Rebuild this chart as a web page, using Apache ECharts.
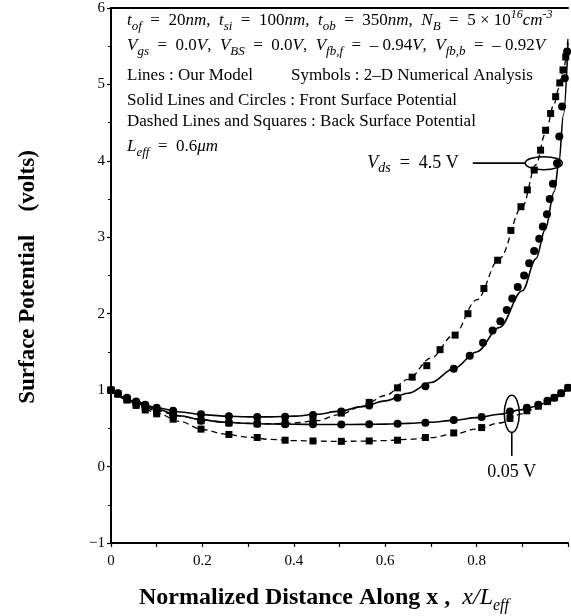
<!DOCTYPE html>
<html>
<head>
<meta charset="utf-8">
<script src="https://cdn.jsdelivr.net/npm/echarts@6/dist/echarts.min.js"></script>
<style>
  html, body { margin: 0; padding: 0; background: #fff; }
  #chart { width: 571px; height: 616px; }
</style>
</head>
<body>
<div id="chart"></div>
<script>
// ---- model curves (our model), sampled along x / Leff ----
const modelX = [0, 0.05, 0.1, 0.15, 0.2, 0.25, 0.3, 0.35, 0.4, 0.45, 0.5, 0.55, 0.6, 0.65, 0.7, 0.75, 0.8, 0.85, 0.9, 0.93, 0.95, 0.97, 0.98, 0.99, 1.0];
const modelFront45 = [1.0, 0.86, 0.77, 0.715, 0.68, 0.66, 0.65, 0.65, 0.66, 0.685, 0.725, 0.785, 0.86, 0.96, 1.1, 1.28, 1.5, 1.82, 2.3, 2.72, 3.1, 3.6, 3.97, 4.6, 5.55];
const modelBack45  = [1.0, 0.84, 0.73, 0.66, 0.61, 0.58, 0.565, 0.56, 0.57, 0.6, 0.68, 0.79, 0.93, 1.14, 1.42, 1.72, 2.18, 2.72, 3.4, 3.95, 4.35, 4.75, 4.95, 5.2, 5.6];
const modelFront005 = [1.0, 0.855, 0.75, 0.665, 0.61, 0.58, 0.565, 0.557, 0.553, 0.551, 0.55, 0.552, 0.556, 0.565, 0.58, 0.605, 0.64, 0.685, 0.745, 0.79, 0.83, 0.885, 0.925, 0.975, 1.03];
const modelBack005  = [1.0, 0.84, 0.7, 0.59, 0.485, 0.425, 0.385, 0.355, 0.34, 0.332, 0.33, 0.332, 0.34, 0.355, 0.38, 0.425, 0.49, 0.57, 0.69, 0.765, 0.825, 0.885, 0.925, 0.975, 1.03];

// ---- 2-D numerical analysis points ----
const simX005 = [0, 0.015, 0.035, 0.055, 0.075, 0.1, 0.136, 0.197, 0.258, 0.32, 0.381, 0.442, 0.504, 0.565, 0.627, 0.688, 0.75, 0.811, 0.873, 0.91, 0.935, 0.955, 0.97, 0.985, 1.0];
const simFront005 = [1.0, 0.955, 0.89, 0.83, 0.785, 0.74, 0.68, 0.6, 0.575, 0.56, 0.555, 0.553, 0.55, 0.553, 0.56, 0.575, 0.61, 0.65, 0.72, 0.77, 0.81, 0.86, 0.9, 0.96, 1.03];
const simBack005  = [1.0, 0.95, 0.87, 0.8, 0.74, 0.69, 0.62, 0.49, 0.42, 0.38, 0.345, 0.335, 0.33, 0.335, 0.345, 0.38, 0.44, 0.51, 0.63, 0.73, 0.79, 0.85, 0.9, 0.96, 1.03];

const simXFront45 = [0, 0.015, 0.035, 0.055, 0.075, 0.1, 0.136, 0.197, 0.258, 0.32, 0.381, 0.442, 0.504, 0.565, 0.627, 0.688, 0.75, 0.785, 0.814, 0.835, 0.852, 0.866, 0.878, 0.89, 0.904, 0.915, 0.926, 0.937, 0.945, 0.954, 0.96, 0.967, 0.976, 0.981, 0.987, 0.993, 0.998];
const simFront45  = [1.0, 0.96, 0.9, 0.85, 0.81, 0.77, 0.73, 0.685, 0.66, 0.648, 0.652, 0.675, 0.72, 0.8, 0.9, 1.05, 1.28, 1.45, 1.62, 1.78, 1.9, 2.05, 2.2, 2.35, 2.5, 2.66, 2.82, 2.98, 3.14, 3.3, 3.5, 3.7, 3.97, 4.32, 4.71, 5.08, 5.43];
const simXBack45 = [0, 0.015, 0.035, 0.055, 0.075, 0.1, 0.136, 0.197, 0.258, 0.32, 0.381, 0.442, 0.504, 0.565, 0.627, 0.659, 0.691, 0.72, 0.753, 0.781, 0.816, 0.846, 0.875, 0.897, 0.911, 0.926, 0.94, 0.951, 0.962, 0.973, 0.982, 0.989, 0.995];
const simBack45  = [1.0, 0.95, 0.88, 0.82, 0.77, 0.72, 0.665, 0.6, 0.57, 0.56, 0.565, 0.6, 0.7, 0.84, 1.03, 1.17, 1.32, 1.53, 1.72, 2.0, 2.33, 2.7, 3.09, 3.4, 3.62, 3.88, 4.14, 4.4, 4.62, 4.84, 5.02, 5.19, 5.36];

// ---- axis ticks ----
const xTickLabels = ['0', '0.2', '0.4', '0.6', '0.8'];
const yTickLabels = ['\u22121', '0', '1', '2', '3', '4', '5', '6'];

// annotation anchors in data units (ellipse centres)
const highVdsAt = [0.947, 3.97];
const lowVdsAt = [0.877, 0.69];

const SERIF = '"Liberation Serif", "Times New Roman", serif';
const zip = (xs, ys) => xs.map((x, i) => [x, ys[i]]);

const chart = echarts.init(document.getElementById('chart'), null, { renderer: 'canvas' });

const lineSeries = (data, dashed) => ({
  type: 'line',
  data: data,
  smooth: 0.35,
  smoothMonotone: 'x',
  showSymbol: false,
  symbol: 'none',
  silent: true,
  lineStyle: { color: '#000', width: dashed ? 1.3 : 1.6, type: dashed ? [6, 4] : 'solid' },
  z: 2
});
const markSeries = (data, shape) => ({
  type: 'scatter',
  data: data,
  symbol: shape,
  symbolSize: shape === 'circle' ? 8 : 7,
  itemStyle: { color: '#000', opacity: 1 },
  silent: true,
  z: 3
});

const axisFont = { fontFamily: SERIF, fontSize: 15, color: '#000' };

chart.setOption({
  animation: false,
  backgroundColor: '#fff',
  grid: { left: 111, right: -1, top: 8, bottom: 73, containLabel: false },
  xAxis: [{
    type: 'value', min: 0, max: 1, interval: 0.1,
    axisLine: { onZero: false, lineStyle: { color: '#000', width: 2 } },
    axisTick: { show: true, length: 4, lineStyle: { color: '#000', width: 1.2 } },
    splitLine: { show: false },
    axisLabel: Object.assign({
      margin: 11,
      formatter: v => {
        const k = Math.round(v * 10);
        return (k % 2 === 0 && k / 2 < xTickLabels.length) ? xTickLabels[k / 2] : '';
      }
    }, axisFont)
  }, {
    type: 'value', min: 0, max: 1, position: 'top',
    axisLine: { show: true, onZero: false, lineStyle: { color: '#000', width: 2 } },
    axisTick: { show: false }, axisLabel: { show: false }, splitLine: { show: false }
  }],
  yAxis: {
    type: 'value', min: -1, max: 6, interval: 1,
    axisLine: { show: true, onZero: false, lineStyle: { color: '#000', width: 2 } },
    axisTick: { show: true, length: 4, lineStyle: { color: '#000', width: 1.2 } },
    minorTick: { show: true, splitNumber: 2, length: 3, lineStyle: { color: '#000', width: 1 } },
    splitLine: { show: false },
    axisLabel: Object.assign({
      margin: 6,
      formatter: v => yTickLabels[Math.round(v) + 1]
    }, axisFont)
  },
  series: [
    lineSeries(zip(modelX, modelFront45), false),
    lineSeries(zip(modelX, modelBack45), true),
    lineSeries(zip(modelX, modelFront005), false),
    lineSeries(zip(modelX, modelBack005), true),
    markSeries(zip(simXFront45, simFront45), 'circle'),
    markSeries(zip(simXBack45, simBack45), 'rect'),
    markSeries(zip(simX005, simFront005), 'circle'),
    markSeries(zip(simX005, simBack005), 'rect')
  ]
});

// rich text styles for the parameter block
const FS = 17;
const rich = {
  n: { fontFamily: SERIF, fontSize: FS, color: '#000', lineHeight: 24 },
  i: { fontFamily: SERIF, fontSize: FS, fontStyle: 'italic', color: '#000', lineHeight: 24 },
  s: { fontFamily: SERIF, fontSize: 13, fontStyle: 'italic', color: '#000', verticalAlign: 'bottom' },
  p: { fontFamily: SERIF, fontSize: 12, fontStyle: 'italic', color: '#000', verticalAlign: 'top' },
  big: { fontFamily: SERIF, fontSize: 18, color: '#000', lineHeight: 24 },
  bigi: { fontFamily: SERIF, fontSize: 18, fontStyle: 'italic', color: '#000', lineHeight: 24 },
  bigs: { fontFamily: SERIF, fontSize: 14, fontStyle: 'italic', color: '#000', verticalAlign: 'bottom' }
};
const txt = (x, y, text, align) => ({
  type: 'text', x: x, y: y, silent: true, z: 6,
  style: { text: text, rich: rich, fill: '#000', font: FS + 'px ' + SERIF,
    verticalAlign: 'middle', align: align || 'left' }
});

const pHigh = chart.convertToPixel({ seriesIndex: 0 }, highVdsAt);
const pLow = chart.convertToPixel({ seriesIndex: 0 }, lowVdsAt);

const graphics = [
  txt(127, 21, '{i|t}{s|of}{n|  =  20}{i|nm}{n|,  }{i|t}{s|si}{n|  =  100}{i|nm}{n|,  }{i|t}{s|ob}{n|  =  350}{i|nm}{n|,  }{i|N}{s|B}{n|  =  5 × 10}{p|16}{i|cm}{p|-3}'),
  txt(127, 46, '{i|V}{s|gs}{n|  =  0.0}{i|V}{n|,  }{i|V}{s|BS}{n|  =  0.0}{i|V}{n|,  }{i|V}{s|fb,f}{n|  =  \u2013 0.94}{i|V}{n|,  }{i|V}{s|fb,b}{n|  =  \u2013 0.92}{i|V}'),
  txt(127, 76, '{n|Lines : Our Model}'),
  txt(291, 76, '{n|Symbols : 2\u2013D Numerical Analysis}'),
  txt(127, 101, '{n|Solid Lines and Circles : Front Surface Potential}'),
  txt(127, 122, '{n|Dashed Lines and Squares : Back Surface Potential}'),
  txt(127, 147, '{i|L}{s|eff}{n|  =  0.6}{i|\u03bcm}'),
  // Vds = 4.5 V callout
  { type: 'ellipse', silent: true, shape: { cx: pHigh[0], cy: pHigh[1], rx: 18.5, ry: 6.5 },
    style: { fill: 'none', stroke: '#000', lineWidth: 1.5 }, z: 5 },
  { type: 'line', silent: true, shape: { x1: pHigh[0] - 18.5, y1: pHigh[1], x2: pHigh[0] - 71, y2: pHigh[1] },
    style: { stroke: '#000', lineWidth: 1.6 }, z: 5 },
  txt(pHigh[0] - 85, pHigh[1], '{bigi|V}{bigs|ds}{big|  =  4.5 V}', 'right'),
  // Vds = 0.05 V callout
  { type: 'ellipse', silent: true, shape: { cx: pLow[0], cy: pLow[1], rx: 7.5, ry: 18.5 },
    style: { fill: 'none', stroke: '#000', lineWidth: 1.5 }, z: 5 },
  { type: 'line', silent: true, shape: { x1: pLow[0], y1: pLow[1] + 18.5, x2: pLow[0], y2: pLow[1] + 42 },
    style: { stroke: '#000', lineWidth: 1.6 }, z: 5 },
  txt(pLow[0], pLow[1] + 58, '{big|0.05 V}', 'center'),
  // axis titles
  { type: 'text', silent: true, x: 28, y: 277, rotation: Math.PI / 2,
    style: { text: 'Surface Potential    (volts)', font: 'bold 23px ' + SERIF, fill: '#000',
      align: 'center', verticalAlign: 'middle' } },
  { type: 'text', silent: true, x: 324, y: 598,
    style: {
      text: '{b|Normalized Distance Along x ,  }{it|x/L}{su|eff}',
      rich: {
        b: { fontFamily: SERIF, fontSize: 24, fontWeight: 'bold', color: '#000', lineHeight: 32 },
        it: { fontFamily: SERIF, fontSize: 24, fontStyle: 'italic', color: '#000', lineHeight: 32 },
        su: { fontFamily: SERIF, fontSize: 16, fontStyle: 'italic', color: '#000', verticalAlign: 'bottom' }
      },
      align: 'center', verticalAlign: 'middle'
    } }
];

chart.setOption({ graphic: graphics });
</script>
</body>
</html>
